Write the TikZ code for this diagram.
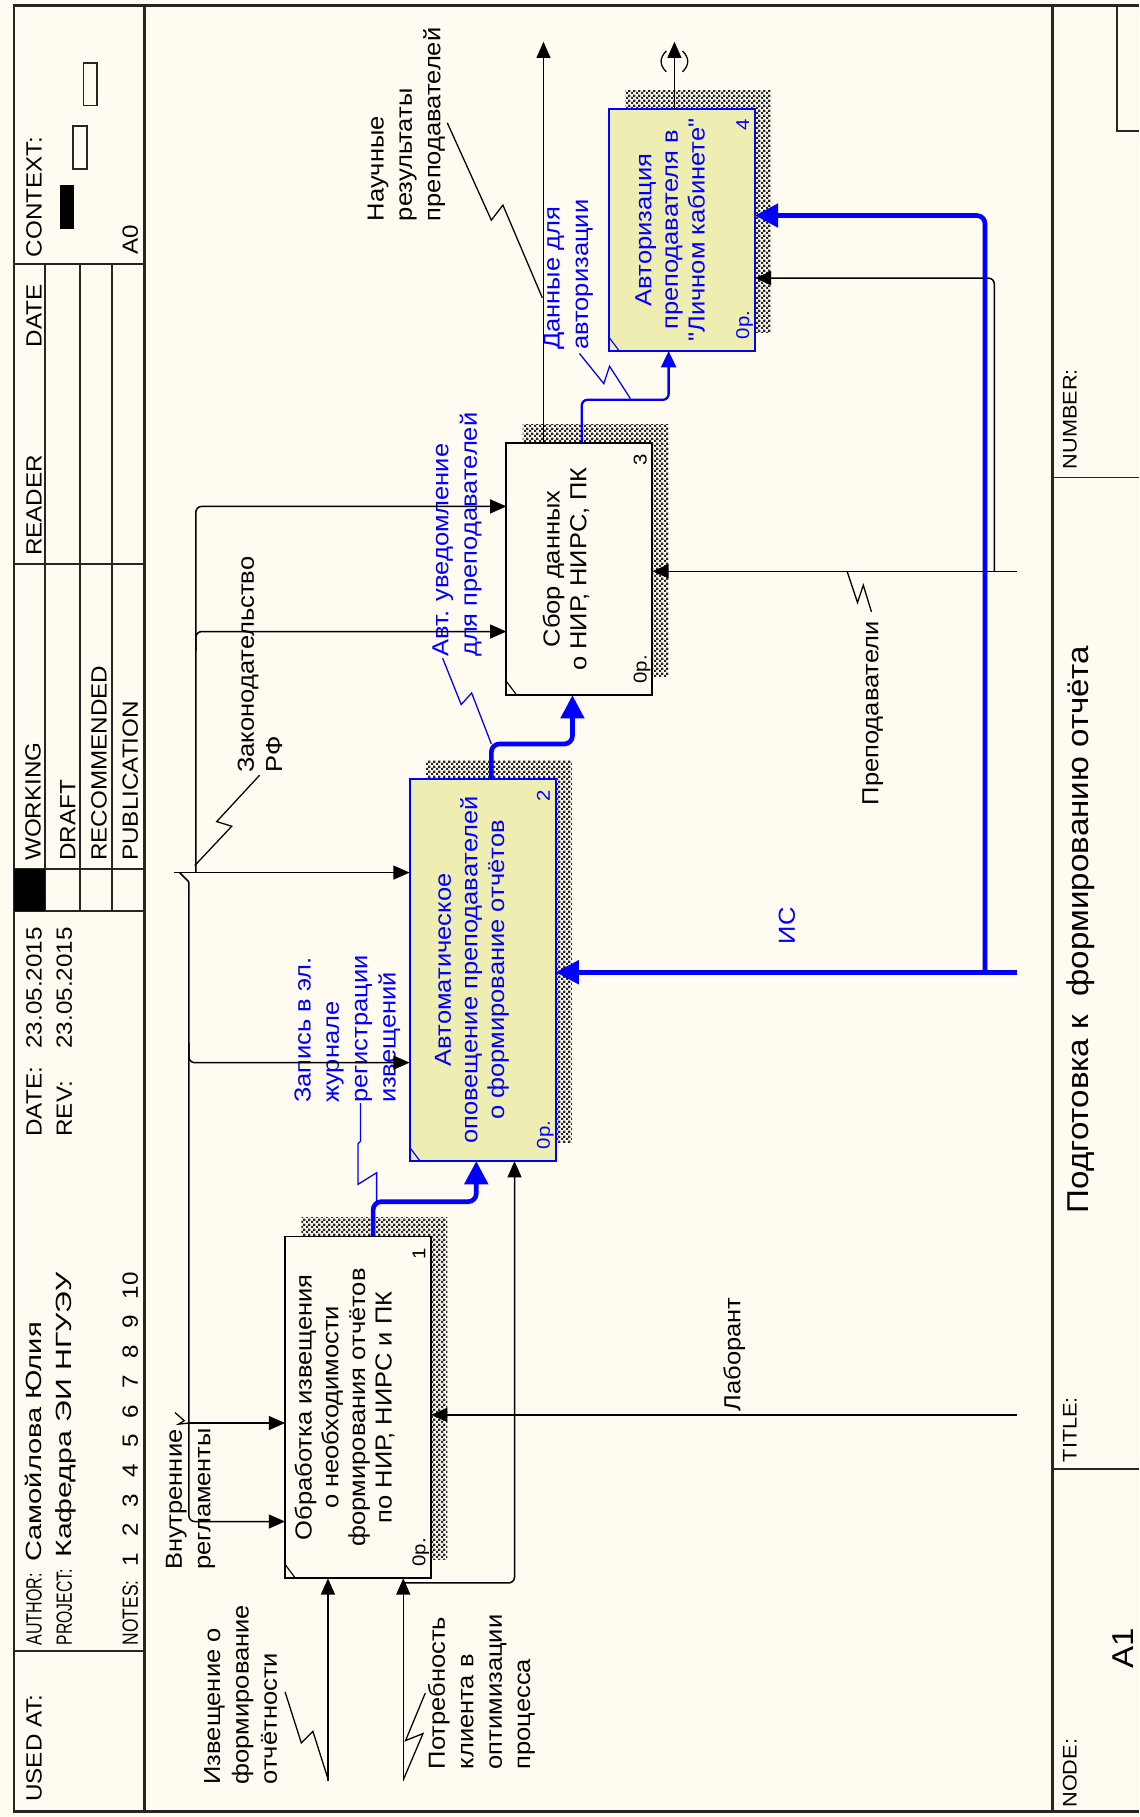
\documentclass[tikz,border=0pt]{standalone}
\usepackage{fontspec}
\setmainfont{Liberation Sans}[FakeStretch=1.1]
\newfontfamily\qfont{Liberation Sans}[FakeStretch=1.1]
\usepackage{tikz}
\usetikzlibrary{positioning,arrows.meta,patterns,backgrounds}

\definecolor{paper}{RGB}{255,251,240}
\definecolor{idefblue}{RGB}{0,0,255}
\definecolor{boxyellow}{RGB}{238,238,178}

\pgfdeclarepatternformonly{checker}{\pgfqpoint{0pt}{0pt}}{\pgfqpoint{4pt}{4pt}}{\pgfqpoint{4pt}{4pt}}{
  \pgfpathrectangle{\pgfqpoint{0pt}{0pt}}{\pgfqpoint{2pt}{2pt}}
  \pgfpathrectangle{\pgfqpoint{2pt}{2pt}}{\pgfqpoint{2pt}{2pt}}
  \pgfusepath{fill}
}

\begin{document}
\begin{tikzpicture}[
    x=1pt, y=-1pt,
    box/.style={draw, line width=1.6pt, minimum width=126pt, inner sep=0pt, outer sep=0pt, fill=paper},
    ybox/.style={box, draw=idefblue, fill=boxyellow},
    boxshade/.style={pattern=checker, pattern color=black!85},
    btext/.style={rotate=90, anchor=base, align=center, inner sep=0pt, font=\fontsize{20}{23}\selectfont},
    lbl/.style={rotate=90, anchor=base west, align=left, inner sep=0pt, font=\fontsize{20}{24.5}\selectfont},
    hdr/.style={rotate=90, anchor=base west, inner sep=0pt, font=\fontsize{19}{23}\selectfont},
    ftr/.style={rotate=90, anchor=base west, inner sep=0pt, font=\fontsize{17}{20}\selectfont},
    bigftr/.style={rotate=90, anchor=base west, inner sep=0pt, font=\fontsize{26}{30}\selectfont},
    costlbl/.style={rotate=90, anchor=base west, inner sep=0pt, font=\fontsize{16}{18}\selectfont},
    numlbl/.style={rotate=90, anchor=base east, inner sep=0pt, font=\fontsize{16}{18}\selectfont},
    arrow/.style={line width=1.3pt, -{Triangle[length=14pt,width=12pt]}, rounded corners=5pt},
    barrow/.style={line width=4pt, idefblue, -{Triangle[length=20pt,width=20pt]}, rounded corners=7pt},
    tarrow/.style={line width=2pt, idefblue, -{Triangle[length=14pt,width=13pt]}, rounded corners=5pt},
    squig/.style={line width=1.1pt},
    frameline/.style={line width=2.4pt, black!85},
    gridline/.style={line width=1.6pt, black!85}
]
\useasboundingbox (0,0) rectangle (983,1568);
\begin{scope}[on background layer]
  \fill[paper] (0,0) rectangle (983,1568);
\end{scope}

% Frame, header and footer
\draw[frameline] (983,5) -- (12,5) -- (12,1563) -- (983,1563);
\draw[frameline] (125,5) -- (125,1563);
\draw[frameline] (908,5) -- (908,1563);
\foreach \y in {228,487,786,1425}
  \draw[gridline] (12,\y) -- (125,\y);
\foreach \x in {39,69,97}
  \draw[gridline] (\x,228) -- (\x,786);
\draw[gridline] (12,750) -- (125,750);
\fill[black] (12,750) rectangle (39,786);
\draw[gridline] (908,412) -- (983,412);
\draw[gridline] (908,1268) -- (983,1268);
\draw[gridline] (964,5) -- (964,113) -- (983,113);
\fill[black] (52,160) rectangle (64,198);
\draw[gridline] (63,109) rectangle (75,146);
\draw[gridline] (72,54) rectangle (84,91);

\node[hdr] (usedat) at (36,1555) {USED AT:};
\node[hdr] (author) at (36,1420) {\scalebox{0.66}[1]{AUTHOR:}\hspace{10pt}\scalebox{1.2}[1]{Самойлова Юлия}};
\node[hdr] (project) at (62,1420) {\scalebox{0.65}[1]{PROJECT:}\hspace{10pt}\scalebox{1.25}[1]{Кафедра ЭИ НГУЭУ}};
\node[hdr] (notes) at (119,1420) {\scalebox{0.72}[1]{NOTES:}\hspace{12pt}1\hspace{14pt}2\hspace{14pt}3\hspace{14pt}4\hspace{14pt}5\hspace{14pt}6\hspace{14pt}7\hspace{14pt}8\hspace{14pt}9\hspace{14pt}10};
\node[hdr] (date) at (36,981) {\makebox[76pt][l]{DATE:}23.05.2015};
\node[hdr] (rev) at (62,981) {\makebox[76pt][l]{REV:}23.05.2015};
\node[hdr] (working) at (35,743) {WORKING};
\node[hdr] (draft) at (65,743) {DRAFT};
\node[hdr] (recom) at (92,743) {RECOMMENDED};
\node[hdr] (public) at (119,743) {PUBLICATION};
\node[hdr] (reader) at (36,480) {READER};
\node[hdr] (date2) at (36,300) {DATE};
\node[hdr] (context) at (36,222) {CONTEXT:};
\node[hdr] (a0) at (119,220) {A0};

\node[ftr] (nodelbl) at (929,1560) {NODE:};
\node[bigftr] (a1) at (978,1440) {A1};
\node[ftr] (titlelbl) at (929,1262) {TITLE:};
\node[bigftr] (title) at (939,1047) {Подготовка к\ \ формированию отчёта};
\node[ftr] (numlbl) at (929,405) {NUMBER:};

% Activity boxes
\node[box, minimum height=295pt] (b1) at (309,1214.5) {};
\node[ybox, minimum height=330pt] (b2) at (416.5,837) {};
\node[box, minimum height=218pt] (b3) at (500,491) {};
\node[ybox, minimum height=209pt] (b4) at (588.5,198.5) {};
\begin{scope}[on background layer]
  \foreach \b in {b1,b2,b3,b4}
    \fill[boxshade] ([xshift=14pt,yshift=16pt]\b.south west) rectangle ([xshift=14pt,yshift=16pt]\b.north east);
\end{scope}
\foreach \b/\c in {b1/black,b2/idefblue,b3/black,b4/idefblue}
  \draw[\c, line width=1pt] ([yshift=12pt]\b.south west) -- ([xshift=9pt]\b.south west);

\node[btext] (t1) at ([xshift=29pt]b1.center) {Обработка извещения\\о необходимости\\формирования отчётов\\по НИР, НИРС и ПК};
\node[btext, idefblue] (t2) at ([xshift=18.5pt]b2.center) {Автоматическое\\оповещение преподавателей\\о формирование отчётов};
\node[btext] (t3) at ([xshift=6pt]b3.center) {Сбор данных\\о НИР, НИРС, ПК};
\node[btext, idefblue] (t4) at ([xshift=19.5pt]b4.center) {Авторизация\\преподавателя в\\{\qfont"}Личном кабинете{\qfont"}};

\node[costlbl] (c1) at ([xshift=-5pt,yshift=10pt]b1.south east) {0р.};
\node[costlbl, idefblue] (c2) at ([xshift=-5pt,yshift=10pt]b2.south east) {0р.};
\node[costlbl] (c3) at ([xshift=-5pt,yshift=10pt]b3.south east) {0р.};
\node[costlbl, idefblue] (c4) at ([xshift=-5pt,yshift=10pt]b4.south east) {0р.};
\node[numlbl] (n1) at ([xshift=-5pt,yshift=-10pt]b1.north east) {1};
\node[numlbl, idefblue] (n2) at ([xshift=-5pt,yshift=-10pt]b2.north east) {2};
\node[numlbl] (n3) at ([xshift=-5pt,yshift=-10pt]b3.north east) {3};
\node[numlbl, idefblue] (n4) at ([xshift=-5pt,yshift=-9pt]b4.north east) {4};

% Arrow labels
\node[lbl] (l_izv) at (239,1540) {Извещение о\\формирование\\отчётности};
\node[lbl] (l_potr) at (457.5,1527) {Потребность\\клиента в\\оптимизации\\процесса};
\node[lbl] (l_vnr) at (181.5,1355) {Внутренние\\регламенты};
\node[lbl] (l_zak) at (243.5,667) {Законодательство\\РФ};
\node[lbl, idefblue] (l_zap) at (341.5,952) {Запись в эл.\\журнале\\регистрации\\извещений};
\node[lbl, idefblue] (l_avt) at (411.5,567) {Авт. уведомление\\для преподавателей};
\node[lbl] (l_nauch) at (380,191) {Научные\\результаты\\преподавателей};
\node[lbl, idefblue] (l_dan) at (507.5,302) {Данные для\\авторизации};
\node[lbl] (l_lab) at (639,1218) {Лаборант};
\node[lbl] (l_prep) at (758,695) {Преподаватели};
\node[lbl, idefblue] (l_is) at (686,815) {ИС};

% Boundary points
\coordinate (izv) at (283,1537);
\coordinate (potr) at (348,1537);
\coordinate (potrb) at (348,1366);
\coordinate (zak) at (150,753);
\coordinate (zakv) at (169,753);
\coordinate (zakb) at (169,562);
\coordinate (vnr) at (163,761);
\coordinate (vnrb2) at (163,900);
\coordinate (vnrb1) at (163,1228);
\coordinate (nauch) at (469,36);
\coordinate (lk) at (582,36);
\coordinate (lab) at (878,1221);
\coordinate (prep) at (878,493);
\coordinate (prepb) at (858,493);
\coordinate (is) at (878,839);
\coordinate (isb) at (850,839);

% Inputs
\draw[arrow] (izv) -- (izv |- b1.south);
\draw[arrow] (potr) -- (potr |- b1.south);
\draw[arrow] (potrb) -| ([xshift=27.5pt]b2.south);
\draw[barrow] ([xshift=13pt]b1.north) -- ++(0,-30) -| ([xshift=-5.5pt]b2.south);
\draw[barrow] ([xshift=7.5pt]b2.north) -- ++(0,-30) -| ([xshift=-6pt]b3.south);
\draw[tarrow] ([xshift=2pt]b3.north) -- ++(0,-37) -| ([xshift=-11.5pt]b4.south);

% Controls
\draw[arrow] (zak) -- (zak -| b2.west);
\draw[arrow] (zakv) |- ([yshift=54pt]b3.west);
\draw[arrow] (zakb) |- ([yshift=-54pt]b3.west);
\draw[line width=1.3pt] (155,753) -- (vnr);
\draw[arrow] (vnr) |- ([yshift=-98.5pt]b1.west);
\draw[arrow] (vnrb2) |- ([yshift=-80pt]b2.west);
\draw[arrow] (vnrb1) -- (vnrb1 -| b1.west);

% Outputs
\draw[arrow] (b3.north -| nauch) -- (nauch);
\draw[arrow] (b4.north -| lk) -- (lk);
\draw[squig] (575,44) .. controls (569,50) and (569,56) .. (575,62);
\draw[squig] (589,44) .. controls (595,50) and (595,56) .. (589,62);

% Mechanisms
\draw[arrow] (lab) -- (lab -| b1.east);
\draw[arrow] (prep) -- (prep -| b3.east);
\draw[arrow] (prepb) |- ([yshift=-41.5pt]b4.east);
\draw[barrow] (is) -- (is -| b2.east);
\draw[barrow] (isb) |- ([yshift=12.5pt]b4.east);

% Label squiggles
\draw[squig] (246,1460) -- (260,1504) -- (270,1494) -- (283,1535);
\draw[squig] (367,1461) -- (350,1502) -- (365,1496) -- (348,1536);
\draw[squig] (224,669) -- (187,709) -- (200,713) -- (168,747);
\draw[squig] (151,1219) -- (159,1226) -- (154,1229) -- (163,1228);
\draw[squig, idefblue] (311,952) -- (311,985) -- (309,987) -- (309,1022) -- (325,1012) -- (325,1038);
\draw[squig, idefblue] (382,568) -- (398,608) -- (407,598) -- (424,642);
\draw[squig] (386,106) -- (424,190) -- (434,177) -- (468,257);
\draw[squig, idefblue] (500,305) -- (521,331) -- (526,316) -- (544,344);
\draw[squig] (731,493) -- (740,520) -- (745,505) -- (752,528);
\end{tikzpicture}
\end{document}
